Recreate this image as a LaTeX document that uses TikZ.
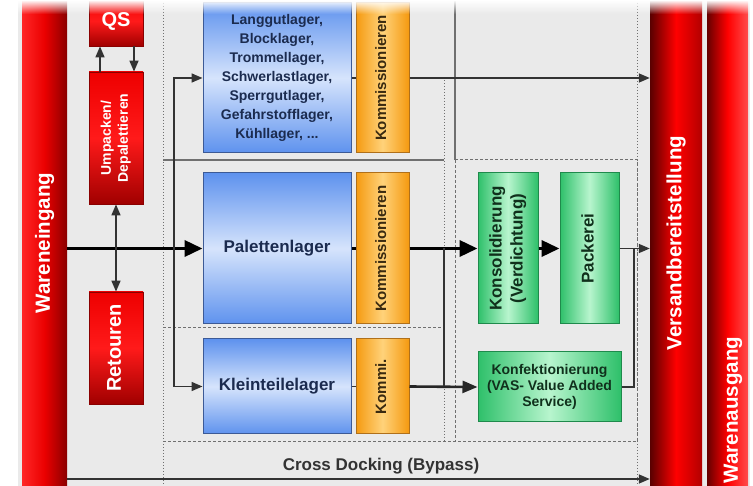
\documentclass[tikz,border=0pt]{standalone}
\usepackage{fontspec}
\setmainfont{Liberation Sans}
\usepackage{tikz}
\usetikzlibrary{arrows.meta}

\definecolor{bggray}{HTML}{EAEAEA}
\definecolor{gridgray}{HTML}{707070}
\definecolor{linegray}{HTML}{333333}
\definecolor{boxredline}{HTML}{8A0000}
\definecolor{boxredtop}{HTML}{EE0000}
\definecolor{boxredmid}{HTML}{FF1A1A}
\definecolor{boxredbot}{HTML}{A00000}
\definecolor{blueline}{HTML}{3C5A96}
\definecolor{bluetop}{HTML}{5E92EE}
\definecolor{bluemid}{HTML}{D6E4FC}
\definecolor{bluetext}{HTML}{1B2B4F}
\definecolor{orangeline}{HTML}{B0701A}
\definecolor{orangeside}{HTML}{F59A10}
\definecolor{orangemid}{HTML}{FFD27A}
\definecolor{orangetext}{HTML}{3A2A10}
\definecolor{greenline}{HTML}{1F8A4C}
\definecolor{greenside}{HTML}{2EC06A}
\definecolor{greenmid}{HTML}{B8F5CE}
\definecolor{greentext}{HTML}{10301C}

\newcommand{\uprot}[1]{\rotatebox{90}{\begin{tabular}{@{}c@{}}#1\end{tabular}}}

\begin{document}
\begin{tikzpicture}[x=1pt, y=-1pt,
    redbar/.style={inner sep=0pt, text=white, font=\bfseries\fontsize{20.5}{24}\selectfont},
    redbox/.style={draw=boxredline, line width=0.8pt, inner sep=0pt, minimum width=54,
      top color=boxredtop, bottom color=boxredbot, middle color=boxredmid, text=white},
    bluebox/.style={draw=blueline, line width=1pt, inner sep=0pt, minimum width=148,
      top color=bluetop, bottom color=bluetop, middle color=bluemid, text=bluetext,
      font=\bfseries\fontsize{17}{20}\selectfont},
    orangebox/.style={draw=orangeline, line width=1pt, inner sep=0pt, minimum width=53,
      left color=orangeside, right color=orangeside, middle color=orangemid, text=orangetext,
      font=\bfseries\fontsize{15}{18}\selectfont},
    greenbox/.style={draw=greenline, line width=1pt, inner sep=0pt,
      left color=greenside, right color=greenside, middle color=greenmid, text=greentext},
    link/.style={draw=linegray, line width=1.6pt},
    arr/.style={link, -{Triangle[length=11pt,width=9pt]}},
    midarr/.style={draw=black!85, line width=2.6pt, -{Triangle[length=15pt,width=12pt]}},
    bigline/.style={draw=black, line width=3.6pt},
    bigarr/.style={bigline, -{Triangle[length=18pt,width=16pt]}},
    griddot/.style={draw=gridgray, line width=1pt, dotted},
    griddash/.style={draw=gridgray, line width=1pt, dash pattern=on 3pt off 2pt},
    gridline/.style={draw=gridgray, line width=1.2pt}]

  \useasboundingbox (0,0) rectangle (753,486);
  \fill[bggray] (18,0) rectangle (750,486);

  \draw[griddot] (163,0) -- (163,486);
  \draw[gridline] (163,160) -- (444,160);
  \draw[gridline] (455,0) -- (455,160);
  \draw[griddot] (444,80) -- (444,442);
  \draw[griddash] (455,160) rectangle (637,442);
  \draw[griddot] (637,0) -- (637,486);
  \draw[griddash] (163,328) -- (444,328);
  \draw[griddash] (163,442) -- (455,442);

  \node[redbar, minimum width=45, minimum height=486,
    left color=red!85!white, right color=boxredline, middle color=red!92!black] (wein) at (44.5,243) {\rotatebox{90}{Wareneingang}};
  \node[redbar, minimum width=52, minimum height=486,
    left color=red!35!black, right color=red!70!black, middle color=red] (vers) at (676,243) {\rotatebox{90}{Versandbereitstellung}};
  \node[redbar, minimum width=41, minimum height=486,
    left color=red!40!black, right color=red!70!white, middle color=red] (waus) at (727.5,243) {};
  \node[redbar] (wausl) at (733,410) {\rotatebox{90}{Warenausgang}};

  \node[redbox, minimum height=50, font=\bfseries\fontsize{20}{24}\selectfont] (qs) at (116,21) {QS};
  \node[redbox, minimum height=132, font=\bfseries\fontsize{14}{17}\selectfont] (ump) at (116,138) {\uprot{Umpacken/\\Depalettieren}};
  \node[redbox, minimum height=112, font=\bfseries\fontsize{20}{24}\selectfont] (ret) at (116,348) {\uprot{Retouren}};

  \node[bluebox, minimum height=150, align=center, font=\bfseries\fontsize{14}{19}\selectfont] (lang) at (277,78)
    {Langgutlager,\\Blocklager,\\Trommellager,\\Schwerlastlager,\\Sperrgutlager,\\Gefahrstofflager,\\Kühllager, ...};
  \node[orangebox, minimum height=150] (kom1) at (382.5,78) {\uprot{Kommissionieren}};
  \node[bluebox, minimum height=151] (pal) at (277,248.5) {Palettenlager};
  \node[orangebox, minimum height=151] (kom2) at (382.5,248.5) {\uprot{Kommissionieren}};
  \node[bluebox, minimum height=95] (klein) at (277,386.5) {Kleinteilelager};
  \node[orangebox, minimum height=95] (kom3) at (382.5,386.5) {\uprot{Kommi.}};

  \node[greenbox, minimum width=60, minimum height=151, font=\bfseries\fontsize{17}{21}\selectfont] (kons) at (508,248.5) {\uprot{Konsolidierung\\(Verdichtung)}};
  \node[greenbox, minimum width=59, minimum height=151, font=\bfseries\fontsize{17}{20}\selectfont] (pack) at (589.5,248.5) {\uprot{Packerei}};
  \node[greenbox, minimum width=143, minimum height=70, align=center, font=\bfseries\fontsize{14}{16}\selectfont] (konf) at (549.5,387)
    {Konfektionierung\\(VAS- Value Added\\Service)};

  \coordinate (split) at (174,248.5);
  \coordinate (join) at (444,386.5);
  \coordinate (merge) at (634,248.5);
  \coordinate (cross) at (67,479);

  \draw[bigarr] (wein.east |- pal.west) -- (pal.west);
  \draw[arr] (split) |- (lang.west);
  \draw[arr] (split) |- (klein.west);
  \draw[arr] (ump.south |- pal.west) -- (ump.south);
  \draw[arr] (ret.north |- pal.west) -- (ret.north);
  \draw[arr] ([xshift=-16pt]ump.north) -- ([xshift=-16pt]qs.south);
  \draw[arr] ([xshift=18pt]qs.south) -- ([xshift=18pt]ump.north);

  \draw[link] (lang) -- (kom1);
  \draw[arr] (kom1.east) -- (kom1.east -| vers.west);
  \draw[bigline] (pal) -- (kom2);
  \draw[bigarr] (kom2.east) -- (kons.west);
  \draw[bigarr] (kons) -- (pack);
  \draw[arr] (pack.east) -- (pack.east -| vers.west);
  \draw[link] (klein) -- (kom3);
  \draw[midarr] (kom3.east) -- (konf.west);
  \draw[link] (join) -- (join |- kom2.east);
  \draw[link] (konf.east) -| (merge);
  \draw[arr] (cross) -- (cross -| vers.west);
  \node[font=\bfseries\fontsize{17}{20}\selectfont, text=black!80] (cd) at (381,466) {Cross Docking (Bypass)};

  \foreach \i in {0,...,13}
    \fill[white, opacity={1-\i/14}] (0,\i) rectangle (753,\i+1);
\end{tikzpicture}
\end{document}
